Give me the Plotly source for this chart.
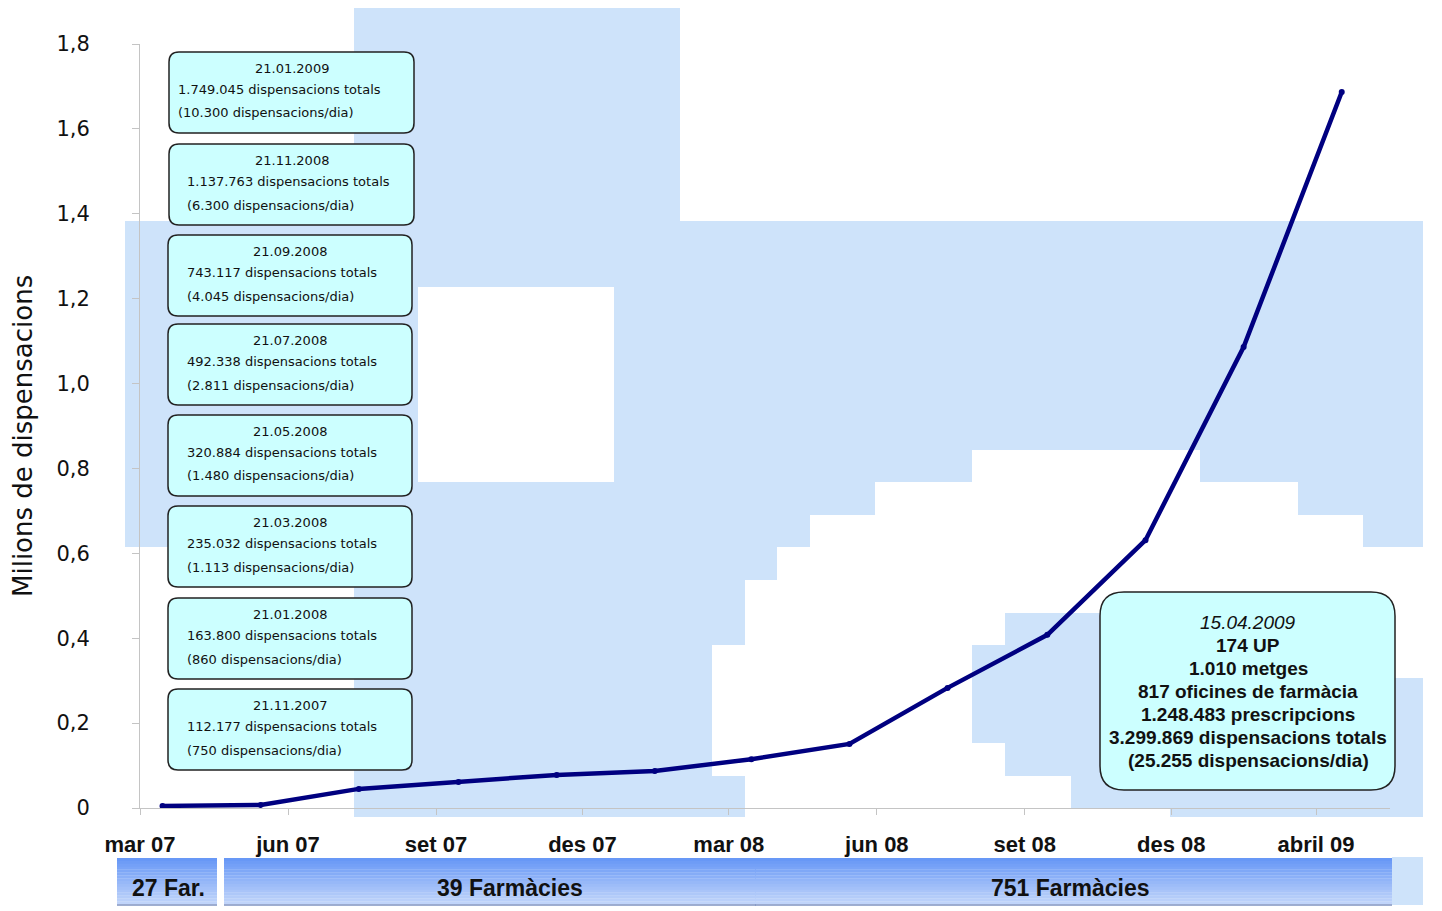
import plotly.graph_objects as go

# ---------------- data ----------------
dates = ["2007-03-15", "2007-05-15", "2007-07-15", "2007-09-15", "2007-11-15",
         "2008-01-15", "2008-03-15", "2008-05-15", "2008-07-15", "2008-09-15",
         "2008-11-15", "2009-01-15", "2009-03-17"]
values = [0.005, 0.007, 0.045, 0.061, 0.078, 0.087, 0.115, 0.151, 0.283,
          0.408, 0.631, 1.086, 1.687]

x_tickvals = ["2007-03-01", "2007-06-01", "2007-09-01", "2007-12-01", "2008-03-01",
              "2008-06-01", "2008-09-01", "2008-12-01", "2009-03-01"]
x_ticktext = ["mar 07", "jun 07", "set 07", "des 07", "mar 08", "jun 08",
              "set 08", "des 08", "abril 09"]
y_tickvals = [0, 0.2, 0.4, 0.6, 0.8, 1.0, 1.2, 1.4, 1.6, 1.8]
y_ticktext = ["0", "0,2", "0,4", "0,6", "0,8", "1,0", "1,2", "1,4", "1,6", "1,8"]

box_dates = ["21.01.2009", "21.11.2008", "21.09.2008", "21.07.2008",
             "21.05.2008", "21.03.2008", "21.01.2008", "21.11.2007"]
box_totals = ["1.749.045 dispensacions totals", "1.137.763 dispensacions totals",
              "743.117 dispensacions totals", "492.338 dispensacions totals",
              "320.884 dispensacions totals", "235.032 dispensacions totals",
              "163.800 dispensacions totals", "112.177 dispensacions totals"]
box_daily = ["(10.300 dispensacions/dia)", "(6.300 dispensacions/dia)",
             "(4.045 dispensacions/dia)", "(2.811 dispensacions/dia)",
             "(1.480 dispensacions/dia)", "(1.113 dispensacions/dia)",
             "(860 dispensacions/dia)", "(750 dispensacions/dia)"]

summary_date = "15.04.2009"
summary_lines = ["174 UP", "1.010 metges", "817 oficines de farmàcia",
                 "1.248.483 prescripcions", "3.299.869 dispensacions totals",
                 "(25.255 dispensacions/dia)"]

phase_labels = ["27 Far.", "39 Farmàcies", "751 Farmàcies"]
y_title = "Milions de dispensacions"

# ---------------- layout geometry (screen pixels) ----------------
OFF = 8                      # page body margin
W, H = 1442 - OFF, 911 - OFF
L, R, T, B = 140, 1390, 44, 808


def px(x):
    return (x - L) / (R - L)


def py(y):
    return (B - y) / (B - T)


BLUE = "#cee3fa"
bg_rects = [
    (354, 8, 680, 221), (125, 221, 1423, 287), (125, 287, 418, 547),
    (614, 287, 1423, 450), (418, 482, 614, 547), (354, 547, 614, 817),
    (614, 450, 712, 817), (712, 450, 745, 645), (712, 776, 745, 817),
    (745, 450, 777, 580), (777, 450, 810, 547), (810, 450, 875, 515),
    (875, 450, 972, 482), (1200, 450, 1298, 482), (1298, 450, 1363, 515),
    (1363, 450, 1423, 547),
    (972, 645, 1005, 743), (1005, 613, 1071, 776), (1071, 613, 1395, 808),
    (1071, 790, 1423, 808), (1170, 808, 1423, 817), (1395, 678, 1423, 808),
]

shapes = []
for (x0, y0, x1, y1) in bg_rects:
    shapes.append(dict(type="rect", xref="paper", yref="paper",
                       x0=px(x0), x1=px(x1), y0=py(y1), y1=py(y0),
                       fillcolor=BLUE, line=dict(width=0), layer="below"))


def rounded(x0, y0, x1, y1, r):
    pts = [("M", x0 + r, y0), ("L", x1 - r, y0), ("Q", x1, y0, x1, y0 + r),
           ("L", x1, y1 - r), ("Q", x1, y1, x1 - r, y1), ("L", x0 + r, y1),
           ("Q", x0, y1, x0, y1 - r), ("L", x0, y0 + r), ("Q", x0, y0, x0 + r, y0)]
    s = ""
    for p in pts:
        cmd = p[0]
        coords = p[1:]
        parts = []
        for i in range(0, len(coords), 2):
            parts.append(f"{px(coords[i]):.5f},{py(coords[i + 1]):.5f}")
        s += cmd + " " + " ".join(parts) + " "
    return s + "Z"


BOX_FILL = "#ccffff"
box_tops = [52, 144, 235, 324, 415, 506, 598, 689]
box_h = 81
box_x0s = [169, 169, 168, 168, 168, 168, 168, 168]
box_x1s = [414, 414, 412, 412, 412, 412, 412, 412]
text_left = [176, 185, 185, 185, 185, 185, 185, 185]

annotations = []
for i, top in enumerate(box_tops):
    x0, x1 = box_x0s[i], box_x1s[i]
    shapes.append(dict(type="path", xref="paper", yref="paper",
                       path=rounded(x0, top, x1, top + box_h, 10),
                       fillcolor=BOX_FILL, line=dict(color="#222222", width=1.5),
                       layer="above"))
    f = dict(family="DejaVu Sans", size=13, color="#111111")
    annotations.append(dict(xref="paper", yref="paper", x=px((x0 + x1) / 2), y=py(top + 16),
                            text=box_dates[i], showarrow=False, font=f,
                            xanchor="center", yanchor="middle"))
    annotations.append(dict(xref="paper", yref="paper", x=px(text_left[i]), y=py(top + 37),
                            text=box_totals[i], showarrow=False, font=f,
                            xanchor="left", yanchor="middle"))
    annotations.append(dict(xref="paper", yref="paper", x=px(text_left[i]), y=py(top + 61),
                            text=box_daily[i], showarrow=False, font=f,
                            xanchor="left", yanchor="middle"))

# summary box
shapes.append(dict(type="path", xref="paper", yref="paper",
                   path=rounded(1100, 592, 1395, 790, 24),
                   fillcolor=BOX_FILL, line=dict(color="#222222", width=1.5),
                   layer="above"))
cx = px(1248)
annotations.append(dict(xref="paper", yref="paper", x=cx, y=py(622),
                        text="<i>" + summary_date + "</i>", showarrow=False,
                        font=dict(family="Liberation Sans", size=19, color="#111111"),
                        xanchor="center", yanchor="middle"))
for k, line in enumerate(summary_lines):
    annotations.append(dict(xref="paper", yref="paper", x=cx, y=py(645 + 23 * k),
                            text="<b>" + line + "</b>", showarrow=False,
                            font=dict(family="Liberation Sans", size=19, color="#111111"),
                            xanchor="center", yanchor="middle"))

# bottom phase bars with vertical gradient
bars = [(117, 858, 217, 904), (224, 858, 756, 904), (755, 858, 1392, 904)]
bar_label_x = [168, 510, 1070]
shapes.append(dict(type="rect", xref="paper", yref="paper",
                   x0=px(1392), x1=px(1423), y0=py(905), y1=py(857),
                   fillcolor=BLUE, line=dict(width=0), layer="below"))
top_c = (104, 152, 246)
bot_c = (192, 212, 250)
n = 16
for (x0, y0, x1, y1) in bars:
    hstep = (y1 - y0) / n
    for j in range(n):
        t = j / (n - 1)
        c = tuple(round(top_c[k] + (bot_c[k] - top_c[k]) * t) for k in range(3))
        shapes.append(dict(type="rect", xref="paper", yref="paper",
                           x0=px(x0), x1=px(x1), y0=py(y0 + hstep * (j + 1) + 0.3),
                           y1=py(y0 + hstep * j),
                           fillcolor=f"rgb{c}", line=dict(width=0), layer="below"))
    shapes.append(dict(type="line", xref="paper", yref="paper",
                       x0=px(x0), x1=px(x1), y0=py(y1 + 1), y1=py(y1 + 1),
                       line=dict(color="#7f93c0", width=1.5), layer="below"))
for i, lab in enumerate(phase_labels):
    annotations.append(dict(xref="paper", yref="paper", x=px(bar_label_x[i]), y=py(888),
                            text="<b>" + lab + "</b>", showarrow=False,
                            font=dict(family="Liberation Sans", size=23, color="#111111"),
                            xanchor="center", yanchor="middle"))

# y axis title
annotations.append(dict(xref="paper", yref="paper", x=px(23), y=py(436),
                        text=y_title, showarrow=False, textangle=-90,
                        font=dict(family="DejaVu Sans", size=26, color="#111111"),
                        xanchor="center", yanchor="middle"))

# white mask that clips the bottom of the "0" tick label
shapes.append(dict(type="rect", xref="paper", yref="paper",
                   x0=px(95), x1=px(135), y0=py(832), y1=py(814),
                   fillcolor="white", line=dict(width=0), layer="above"))

fig = go.Figure()
fig.add_trace(go.Scatter(x=dates, y=values, mode="lines+markers",
                         line=dict(color="#000080", width=4.5),
                         marker=dict(color="#000080", size=6),
                         showlegend=False, hoverinfo="x+y"))

fig.update_layout(
    width=W, height=H,
    margin=dict(l=L - OFF, r=W - (R - OFF), t=T - OFF, b=H - (B - OFF), pad=0),
    paper_bgcolor="white", plot_bgcolor="rgba(0,0,0,0)",
    shapes=shapes, annotations=annotations,
    showlegend=False,
    xaxis=dict(type="date", range=["2007-03-01", "2009-04-16"],
               tickvals=x_tickvals, ticktext=x_ticktext,
               showline=True, linecolor="#c4c4c4", linewidth=1,
               ticks="outside", ticklen=6, tickcolor="#c4c4c4",
               showgrid=False, zeroline=False, ticklabelstandoff=11,
               tickfont=dict(family="Liberation Sans", size=22, color="#111111",
                             weight="bold")),
    yaxis=dict(range=[0, 1.8], tickvals=y_tickvals, ticktext=y_ticktext,
               showline=True, linecolor="#c4c4c4", linewidth=1,
               ticks="outside", ticklen=7, tickcolor="#c4c4c4",
               showgrid=False, zeroline=False, ticklabelstandoff=38,
               tickfont=dict(family="DejaVu Sans", size=21, color="#111111")),
)

fig.write_html("out.html")
